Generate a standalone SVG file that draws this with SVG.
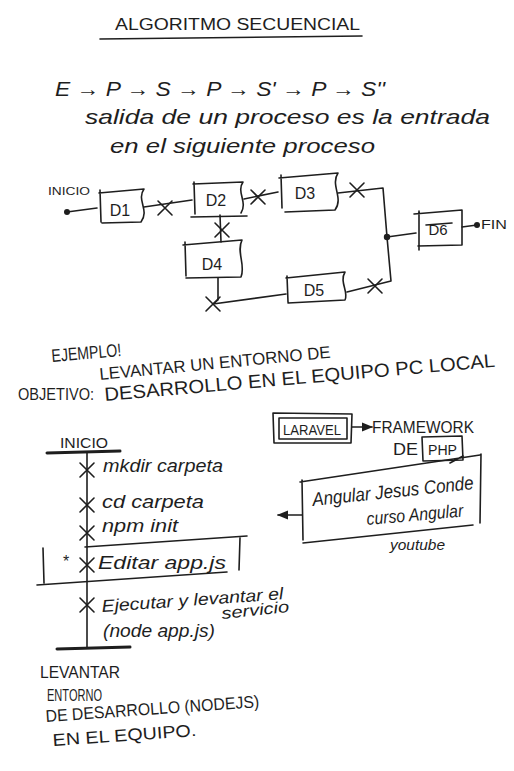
<svg xmlns="http://www.w3.org/2000/svg" xmlns:xlink="http://www.w3.org/1999/xlink" width="514" height="771" viewBox="0 0 514 771">
<style>
.s{fill:none;stroke:#1e1e1e;stroke-width:1.6;stroke-linecap:round;stroke-linejoin:round}
.b{fill:none;stroke:#1e1e1e;stroke-width:3;stroke-linecap:round}
.t{font-family:"Liberation Sans",Arial,sans-serif;fill:#1e1e1e}
.h{font-family:"Liberation Sans",Arial,sans-serif;font-style:italic;fill:#1e1e1e}
.dot{fill:#1e1e1e}
</style>
<defs>
<g id="x"><path class="s" d="M-7 -7 L7 7 M7 -7 L-7 7" stroke-width="2.2"/></g>
<marker id="ah" viewBox="0 0 10 10" refX="9" refY="5" markerWidth="7" markerHeight="7" orient="auto-start-reverse"><path d="M0 1 L10 5 L0 9 Z" fill="#1e1e1e"/></marker>
</defs>
<rect width="514" height="771" fill="#ffffff"/>

<g id="title">
<text class="t" x="115" y="30" font-size="16" textLength="245" lengthAdjust="spacingAndGlyphs">ALGORITMO SECUENCIAL</text>
<path class="s" d="M100 39 L362 36"/>
</g>
<g id="sequence">
<text class="h" x="55" y="96" font-size="20" textLength="330" lengthAdjust="spacingAndGlyphs">E → P → S → P → S' → P → S''</text>
<text class="h" x="85" y="124" font-size="21" textLength="405" lengthAdjust="spacingAndGlyphs">salida de un proceso es la entrada</text>
<text class="h" x="110" y="153" font-size="21" textLength="265" lengthAdjust="spacingAndGlyphs">en el siguiente proceso</text>
</g>

<g id="connectors">
<path class="s" d="M67 212 L97 208"/>
<path class="s" d="M144 207 L192 200"/>
<path class="s" d="M244 199 L278 192"/>
<path class="s" d="M338 193 L383 188 L387 237"/>
<path class="s" d="M387 237 L416 233"/>
<path class="s" d="M462 227 L477 225"/>
<path class="s" d="M220 215 L221 242"/>
<path class="s" d="M218 278 L218 300 L213 304 L286 294"/>
<path class="s" d="M347 292 L391 281 L387 237"/>
<use xlink:href="#x" x="165" y="208"/>
<use xlink:href="#x" x="258" y="197"/>
<use xlink:href="#x" x="357" y="190"/>
<use xlink:href="#x" x="222" y="230"/>
<use xlink:href="#x" x="213" y="304"/>
<use xlink:href="#x" x="375" y="286"/>
<path class="s" d="M352 427 L372 427" marker-end="url(#ah)"/>
<path class="s" d="M302 515 L278 515" marker-end="url(#ah)"/>
</g>

<g id="inicio1">
<text class="t" x="48" y="195" font-size="11" textLength="42" lengthAdjust="spacingAndGlyphs">INICIO</text>
<circle class="dot" cx="67" cy="212" r="3"/>
</g>
<g id="D1">
<path class="s" d="M99 193 L144 189 C136 200 150 210 141 222 L102 223 M100 190 L101 222"/>
<text class="t" x="120" y="216" font-size="16" text-anchor="middle">D1</text>
</g>
<g id="D2">
<path class="s" d="M193 184 L243 182 C236 192 248 202 241 213 M191 217 L247 216 M194 182 L195 214"/>
<text class="t" x="216" y="206" font-size="16" text-anchor="middle">D2</text>
</g>
<g id="D3">
<path class="s" d="M279 178 L338 173 C330 185 344 198 335 210 L285 212 M281 175 L282 208"/>
<text class="t" x="305" y="199" font-size="16" text-anchor="middle">D3</text>
</g>
<g id="D4">
<path class="s" d="M183 245 L242 240 C236 252 246 265 241 277 L186 278 M185 242 L186 276"/>
<text class="t" x="212" y="270" font-size="16" text-anchor="middle">D4</text>
</g>
<g id="D5">
<path class="s" d="M286 278 L345 272 C339 282 349 292 345 300 L288 303 M287 276 L288 302"/>
<text class="t" x="314" y="296" font-size="16" text-anchor="middle">D5</text>
</g>
<g id="junction"><circle class="dot" cx="387" cy="237" r="3.2"/></g>
<g id="D6">
<path class="s" d="M414 214 L462 210 L462 245 L418 246 M419 211 L419 250"/>
<text class="t" x="438" y="235" font-size="15" text-anchor="middle">D6</text>
<path class="s" d="M426 225 L452 223"/>
</g>
<g id="fin">
<circle class="dot" cx="477" cy="225" r="3"/>
<text class="t" x="481" y="229" font-size="12" textLength="26" lengthAdjust="spacingAndGlyphs">FIN</text>
</g>

<g id="ejemplo">
<text class="t" x="52" y="362" font-size="18" textLength="70" lengthAdjust="spacingAndGlyphs" transform="rotate(-5 52 362)">EJEMPLO!</text>
<text class="t" x="100" y="380" font-size="17" textLength="232" lengthAdjust="spacingAndGlyphs" transform="rotate(-5.5 100 380)">LEVANTAR UN ENTORNO DE</text>
<text class="t" x="18" y="400" font-size="16" textLength="76" lengthAdjust="spacingAndGlyphs">OBJETIVO:</text>
<text class="t" x="105" y="401" font-size="19" textLength="392" lengthAdjust="spacingAndGlyphs" transform="rotate(-5 105 401)">DESARROLLO EN EL EQUIPO PC LOCAL</text>
</g>

<g id="timeline">
<text class="t" x="60" y="448" font-size="15" textLength="48" lengthAdjust="spacingAndGlyphs">INICIO</text>
<path class="b" d="M47 453 L120 451"/>
<path class="s" d="M87 453 L87 648" stroke-width="2.2"/>
<path class="b" d="M57 649 L130 647"/>
<use xlink:href="#x" x="87" y="470"/>
<use xlink:href="#x" x="87" y="505"/>
<use xlink:href="#x" x="87" y="533"/>
<use xlink:href="#x" x="87" y="565"/>
<use xlink:href="#x" x="87" y="605"/>
<text class="h" x="103" y="472" font-size="18" textLength="120" lengthAdjust="spacingAndGlyphs">mkdir carpeta</text>
<text class="h" x="102" y="508" font-size="18" textLength="102" lengthAdjust="spacingAndGlyphs">cd carpeta</text>
<text class="h" x="102" y="532" font-size="18" textLength="76" lengthAdjust="spacingAndGlyphs">npm init</text>
<path class="s" d="M85 547 L247 536 M43 548 L44 583 M37 585 L227 572 M240 538 L239 570"/>
<text class="t" x="63" y="567" font-size="16">*</text>
<text class="h" x="98" y="569" font-size="19" textLength="128" lengthAdjust="spacingAndGlyphs">Editar app.js</text>
<text class="h" x="102" y="612" font-size="17" textLength="182" lengthAdjust="spacingAndGlyphs" transform="rotate(-4 102 612)">Ejecutar y levantar el</text>
<text class="h" x="222" y="619" font-size="16" textLength="68" lengthAdjust="spacingAndGlyphs" transform="rotate(-6 222 619)">servicio</text>
<text class="h" x="103" y="637" font-size="18" textLength="112" lengthAdjust="spacingAndGlyphs">(node app.js)</text>
</g>

<g id="levantar">
<text class="t" x="40" y="678" font-size="17" textLength="80" lengthAdjust="spacingAndGlyphs">LEVANTAR</text>
<text class="t" x="47" y="701" font-size="17" textLength="55" lengthAdjust="spacingAndGlyphs">ENTORNO</text>
<text class="t" x="46" y="722" font-size="17" textLength="214" lengthAdjust="spacingAndGlyphs" transform="rotate(-4 46 722)">DE DESARROLLO (NODEJS)</text>
<text class="t" x="53" y="746" font-size="17" textLength="144" lengthAdjust="spacingAndGlyphs" transform="rotate(-4 53 746)">EN EL EQUIPO.</text>
</g>

<g id="laravel">
<path class="s" d="M273 413 L352 414 L351 443 L274 443 Z"/>
<path class="s" d="M279 418 L347 418 L347 439 L279 439 Z"/>
<text class="t" x="283" y="435" font-size="14" textLength="58" lengthAdjust="spacingAndGlyphs">LARAVEL</text>
</g>
<g id="framework">
<text class="t" x="372" y="433" font-size="16" textLength="102" lengthAdjust="spacingAndGlyphs">FRAMEWORK</text>
<text class="t" x="393" y="455" font-size="16" textLength="25" lengthAdjust="spacingAndGlyphs">DE</text>
<path class="s" d="M422 437 L462 436 L463 460 L423 461 Z"/>
<text class="t" x="428" y="455" font-size="15" textLength="29" lengthAdjust="spacingAndGlyphs">PHP</text>
</g>
<g id="angular">
<path class="s" d="M300 482 L480 455 M481 454 L480 523 M303 543 L473 525 M302 480 L303 540 M450 463 L463 456"/>
<text class="h" x="313" y="506" font-size="19" textLength="162" lengthAdjust="spacingAndGlyphs" transform="rotate(-6 313 506)">Angular Jesus Conde</text>
<text class="h" x="367" y="525" font-size="18" textLength="97" lengthAdjust="spacingAndGlyphs" transform="rotate(-5 367 525)">curso Angular</text>
<text class="h" x="390" y="550" font-size="15" textLength="55" lengthAdjust="spacingAndGlyphs">youtube</text>
</g>
</svg>
